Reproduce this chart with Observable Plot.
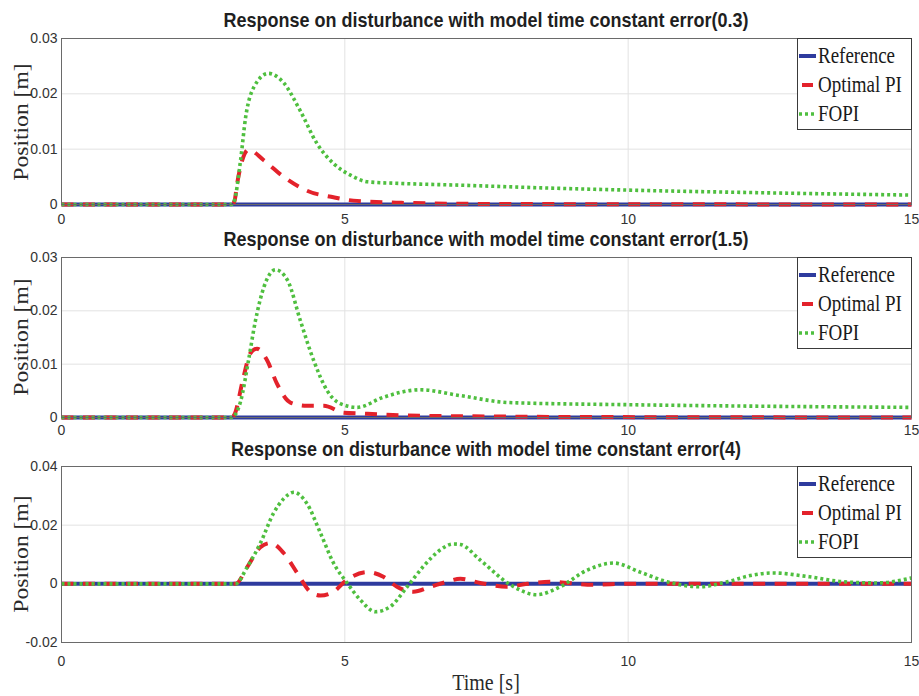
<!DOCTYPE html>
<html><head><meta charset="utf-8">
<script src="https://cdn.jsdelivr.net/npm/d3@7"></script>
<script src="https://cdn.jsdelivr.net/npm/@observablehq/plot@0.6"></script>
<style>
body{margin:0;background:#fff;}
#root{position:relative;width:919px;height:696px;overflow:hidden;background:#fff;}
.panel{position:absolute;left:0;}
.title{position:absolute;left:486px;font:bold 18px "Liberation Sans",Arial,sans-serif;line-height:1;color:#1f1f1f;white-space:nowrap;transform:translate(-50%,-50%) scaleY(1.15);}
.ylab{position:absolute;left:21px;font:20px "Liberation Serif","DejaVu Serif",serif;line-height:1;color:#2a2a2a;white-space:nowrap;transform:translate(-50%,-50%) rotate(-90deg) scaleX(1.18);}
.xlab{position:absolute;left:486px;font:20px "Liberation Serif","DejaVu Serif",serif;line-height:1;color:#2a2a2a;white-space:nowrap;transform:translate(-50%,-50%) scaleY(1.15);}
.legend{position:absolute;left:797px;width:113px;height:90px;border:1px solid #3a3a3a;background:#fff;box-sizing:content-box;}
.legend .row{position:absolute;left:0;height:30px;width:113px;}
.legend svg{position:absolute;left:1px;top:12px;}
.legend span{position:absolute;left:20px;top:0;font:19px "Liberation Serif","DejaVu Serif",serif;color:#1a1a1a;white-space:nowrap;transform:scaleY(1.18);transform-origin:0 50%;line-height:30px;}
</style>
</head><body>
<div id="root"></div>
<script>
// ---------- data ----------
const seriesNames = ["Reference", "Optimal PI", "FOPI"];
const titles = [
  "Response on disturbance with model time constant error(0.3)",
  "Response on disturbance with model time constant error(1.5)",
  "Response on disturbance with model time constant error(4)"
];
const xTicks = [0, 5, 10, 15];
const yTicks1 = [0, 0.01, 0.02, 0.03];
const yTicks2 = [0, 0.01, 0.02, 0.03];
const yTicks3 = [-0.02, 0, 0.02, 0.04];

const refT = [0, 15];
const refV = [0, 0];

// panel 1 (error 0.3)
const pi1T = [0, 3.0, 3.05, 3.1, 3.19, 3.3, 3.57, 3.92, 4.33, 4.8, 5.15, 6.0, 7.5, 10, 15];
const pi1V = [0, 0, 0.0005, 0.0038, 0.008, 0.0099, 0.008, 0.005, 0.0025, 0.0013, 0.0007, 0.0003, 0.0001, 0.00005, 0];
const fo1T = [0, 3.0, 3.05, 3.16, 3.25, 3.4, 3.65, 3.92, 4.21, 4.51, 4.8, 5.1, 5.4, 6.0, 7.0, 8.5, 10, 12.5, 15];
const fo1V = [0, 0, 0.0007, 0.008, 0.0158, 0.0213, 0.0237, 0.022, 0.017, 0.011, 0.0074, 0.0053, 0.0041, 0.0038, 0.0035, 0.003, 0.0026, 0.0021, 0.0017];

// panel 2 (error 1.5)
const pi2T = [0, 3.0, 3.05, 3.21, 3.33, 3.45, 3.63, 3.8, 4.04, 4.33, 4.63, 4.98, 5.4, 6.0, 7.5, 9, 15];
const pi2V = [0, 0, 0.0005, 0.0075, 0.012, 0.0129, 0.0107, 0.0064, 0.0028, 0.0022, 0.0022, 0.0009, 0.0007, 0.0004, 0.0002, 0.0001, 0];
const fo2T = [0, 3.0, 3.05, 3.16, 3.3, 3.42, 3.57, 3.78, 3.99, 4.22, 4.45, 4.69, 4.92, 5.22, 5.68, 6.33, 7.04, 7.9, 10, 12.5, 15];
const fo2V = [0, 0, 0.0003, 0.003, 0.0107, 0.018, 0.0244, 0.0277, 0.0257, 0.018, 0.0107, 0.005, 0.0026, 0.0019, 0.0038, 0.0052, 0.0041, 0.0028, 0.0024, 0.0021, 0.0019];

// panel 3 (error 4)
const pi3T = [0, 3.0, 3.07, 3.28, 3.51, 3.69, 3.92, 4.16, 4.39, 4.57, 4.8, 5.04, 5.4, 5.68, 5.92, 6.21, 6.51, 6.8, 7.04, 7.39, 7.86, 8.22, 8.62, 9.38, 10, 15];
const pi3V = [0, 0, 0, 0.0058, 0.0125, 0.0139, 0.0105, 0.0037, -0.0027, -0.004, -0.0027, 0.0014, 0.004, 0.0024, -0.001, -0.0027, -0.001, 0.0007, 0.0017, 0.0003, -0.001, 0, 0.0007, -0.0003, 0, 0];
const fo3T = [0, 3.0, 3.07, 3.28, 3.51, 3.74, 3.92, 4.1, 4.33, 4.57, 4.8, 5.04, 5.27, 5.54, 5.8, 6.1, 6.38, 6.68, 6.91, 7.04, 7.39, 7.92, 8.39, 8.8, 9.28, 9.74, 10.21, 10.69, 11.27, 11.75, 12.2, 12.56, 13.2, 13.8, 14.4, 15];
const fo3V = [0, 0, 0, 0.0058, 0.0139, 0.024, 0.029, 0.0312, 0.0274, 0.0173, 0.0071, 0.0003, -0.0054, -0.0095, -0.0078, -0.001, 0.0058, 0.0115, 0.0136, 0.0134, 0.0081, -0.0003, -0.0037, -0.001, 0.0047, 0.0071, 0.004, 0.0007, -0.001, 0.0007, 0.003, 0.0037, 0.0024, 0.0007, 0.0003, 0.002];

// ---------- styling ----------
const BLUE = "#2e3b9e", RED = "#e3222b", GREEN = "#4fbf3f";
const zip = (T, V) => T.map((t, i) => ({t, v: V[i]}));
const fmtY = d => d === 0 ? "0" : String(d);

const root = document.getElementById("root");

function addPanel(cfg) {
  const {plotTop, plotH, marginBottom, tickPad, yDomain, yTicks, pi, fo, title, titleY, ylabY} = cfg;
  const div = document.createElement("div");
  div.className = "panel";
  div.style.top = (plotTop - 10) + "px";
  const chart = Plot.plot({
    width: 919,
    height: 10 + plotH + marginBottom,
    marginLeft: 61, marginRight: 8, marginTop: 10, marginBottom,
    x: {domain: [0, 15]},
    y: {domain: yDomain},
    style: {fontFamily: "'Liberation Sans', Arial, sans-serif", fontSize: "14px", color: "#333", background: "transparent"},
    marks: [
      Plot.gridX(xTicks.slice(1, -1), {stroke: "#e2e2e2", strokeOpacity: 1}),
      Plot.gridY(yTicks.slice(1, -1), {stroke: "#e2e2e2", strokeOpacity: 1}),
      Plot.axisX(xTicks, {tickSize: 0, tickPadding: tickPad, label: null, fontSize: 14}),
      Plot.axisY(yTicks, {tickSize: 0, tickPadding: 4, tickFormat: fmtY, label: null, fontSize: 14}),
      Plot.line(zip(refT, refV), {x: "t", y: "v", stroke: BLUE, strokeWidth: 4, strokeLinecap: "butt"}),
      Plot.line(pi, {x: "t", y: "v", stroke: RED, strokeWidth: 4, strokeDasharray: "12,9.5", strokeLinecap: "butt", curve: "monotone-x"}),
      Plot.line(fo, {x: "t", y: "v", stroke: GREEN, strokeWidth: 3.6, strokeDasharray: "3,3", strokeLinecap: "butt", curve: "monotone-x"}),
      Plot.frame({stroke: "#6a6a6a", strokeWidth: 1})
    ]
  });
  div.appendChild(chart);
  root.appendChild(div);

  const t = document.createElement("div");
  t.className = "title"; t.style.top = titleY + "px"; t.textContent = title;
  root.appendChild(t);

  const yl = document.createElement("div");
  yl.className = "ylab"; yl.style.top = ylabY + "px"; yl.textContent = "Position [m]";
  root.appendChild(yl);

  const lg = document.createElement("div");
  lg.className = "legend"; lg.style.top = plotTop + "px";
  const swatches = [
    `<svg width="18" height="6"><line x1="0" y1="3" x2="17" y2="3" stroke="${BLUE}" stroke-width="4"/></svg>`,
    `<svg width="18" height="6"><line x1="3" y1="3" x2="14" y2="3" stroke="${RED}" stroke-width="4"/></svg>`,
    `<svg width="18" height="6"><line x1="0" y1="3" x2="18" y2="3" stroke="${GREEN}" stroke-width="3.6" stroke-dasharray="3,3"/></svg>`
  ];
  seriesNames.forEach((n, i) => {
    const r = document.createElement("div");
    r.className = "row"; r.style.top = (2 + i * 29) + "px";
    r.innerHTML = swatches[i] + `<span>${n}</span>`;
    lg.appendChild(r);
  });
  root.appendChild(lg);
}

addPanel({plotTop: 38, plotH: 166, marginBottom: 24, tickPad: 10, yDomain: [0, 0.03], yTicks: yTicks1,
  pi: zip(pi1T, pi1V), fo: zip(fo1T, fo1V), title: titles[0], titleY: 20, ylabY: 122});
addPanel({plotTop: 257, plotH: 160, marginBottom: 24, tickPad: 8, yDomain: [0, 0.03], yTicks: yTicks2,
  pi: zip(pi2T, pi2V), fo: zip(fo2T, fo2V), title: titles[1], titleY: 239, ylabY: 337});
addPanel({plotTop: 466, plotH: 176, marginBottom: 30, tickPad: 14, yDomain: [-0.02, 0.04], yTicks: yTicks3,
  pi: zip(pi3T, pi3V), fo: zip(fo3T, fo3V), title: titles[2], titleY: 449, ylabY: 554});

const xl = document.createElement("div");
xl.className = "xlab"; xl.style.top = "682px"; xl.textContent = "Time [s]";
root.appendChild(xl);
</script>
</body></html>
